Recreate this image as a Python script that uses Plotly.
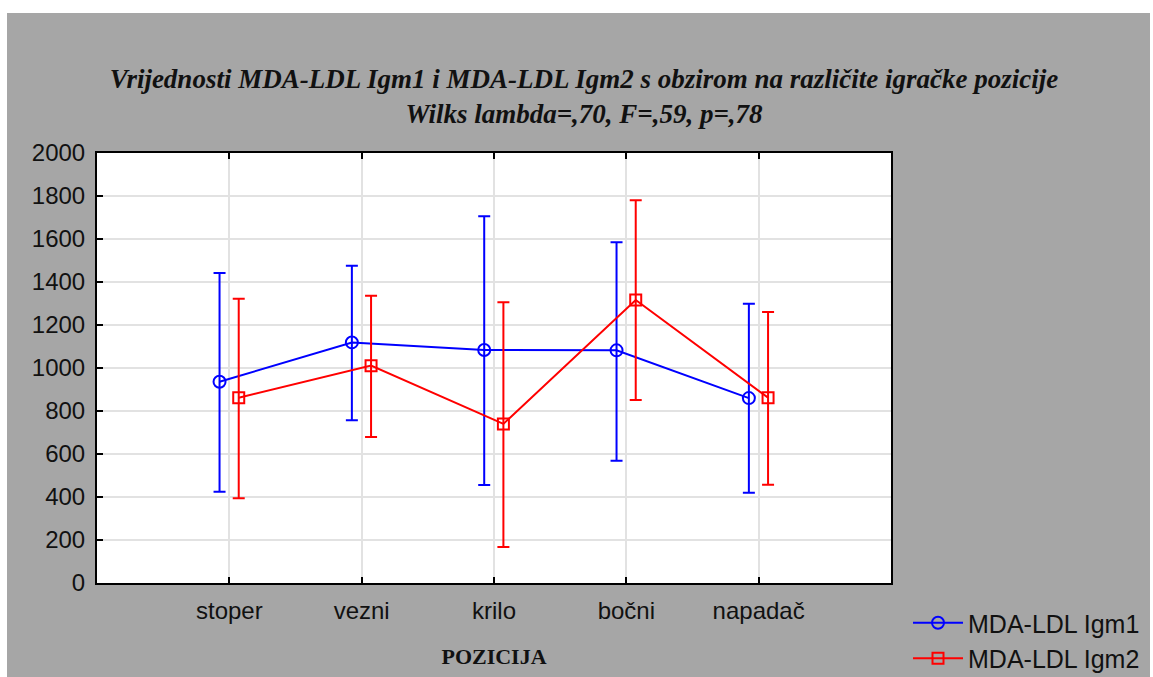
import plotly.graph_objects as go

positions = ["stoper", "vezni", "krilo", "bočni", "napadač"]

igm1_mean = [936, 1119, 1084, 1082, 860]
igm1_upper = [1442, 1476, 1706, 1585, 1299]
igm1_lower = [424, 757, 456, 569, 420]

igm2_mean = [862, 1011, 740, 1316, 862]
igm2_upper = [1322, 1336, 1306, 1780, 1260]
igm2_lower = [394, 679, 167, 851, 457]

y_ticks = list(range(0, 2001, 200))

W, H = 1153, 677
L, R, T, B = 97, 891, 153, 583
GRAY = "#a6a6a6"


def series(name, mean, upper, lower, shift, color, symbol, size):
    xs = [i + 1 + shift for i in range(len(mean))]
    return go.Scatter(
        x=xs,
        y=mean,
        name=name,
        mode="lines+markers",
        line=dict(color=color, width=2),
        marker=dict(symbol=symbol, size=size, color=color,
                    line=dict(color=color, width=2)),
        error_y=dict(
            type="data",
            symmetric=False,
            array=[u - m for u, m in zip(upper, mean)],
            arrayminus=[m - lo for m, lo in zip(mean, lower)],
            color=color,
            thickness=2,
            width=6,
        ),
    )


fig = go.Figure()
fig.add_trace(series("MDA-LDL Igm1", igm1_mean, igm1_upper, igm1_lower,
                     -0.074, "#0000ff", "circle-open", 12))
fig.add_trace(series("MDA-LDL Igm2", igm2_mean, igm2_upper, igm2_lower,
                     0.071, "#ff0000", "square-open", 11))

fig.update_layout(
    width=W,
    height=H,
    margin=dict(l=L, r=W - R, t=T, b=H - B, autoexpand=False),
    paper_bgcolor=GRAY,
    plot_bgcolor="white",
    font=dict(family="Liberation Sans, Arial", size=24, color="#111111"),
    title=dict(
        text="Vrijednosti MDA-LDL Igm1 i MDA-LDL Igm2 s obzirom na različite igračke pozicije"
             "<br>Wilks lambda=,70, F=,59, p=,78",
        x=584 / W,
        xanchor="center",
        xref="container",
        y=1 - 88 / H,
        yref="container",
        yanchor="middle",
        font=dict(family="Liberation Serif, Times New Roman", size=27,
                  weight="bold", style="italic", color="#111111"),
    ),
    legend=dict(
        x=(908 - L) / (R - L),
        y=(B - 600) / (B - T),
        xanchor="left",
        yanchor="top",
        bgcolor="rgba(0,0,0,0)",
        font=dict(size=25),
        itemwidth=50,
        tracegroupgap=0,
    ),
    showlegend=True,
)

fig.update_xaxes(
    range=[0, 6],
    tickmode="array",
    tickvals=[1, 2, 3, 4, 5],
    ticktext=positions,
    ticks="inside",
    ticklen=6,
    tickwidth=2,
    tickcolor="black",
    showline=True,
    linecolor="black",
    linewidth=2,
    mirror="ticks",
    showgrid=True,
    gridcolor="#e2e2e2",
    gridwidth=1.5,
    zeroline=False,
    ticklabelstandoff=5,
    title=dict(text="POZICIJA", standoff=26,
               font=dict(family="Liberation Serif, Times New Roman", size=22,
                         weight="bold", color="#111111")),
)

fig.update_yaxes(
    range=[0, 2000],
    tickmode="array",
    tickvals=y_ticks,
    ticks="inside",
    ticklen=6,
    tickwidth=2,
    tickcolor="black",
    showline=True,
    linecolor="black",
    linewidth=2,
    mirror=True,
    showgrid=True,
    gridcolor="#e2e2e2",
    gridwidth=1.5,
    zeroline=False,
    ticklabelstandoff=5,
)

# thin white strips at the top, left and right edges of the page
pw, ph = R - L, B - T
fig.add_shape(type="rect", xref="paper", yref="paper", layer="below",
              x0=-L / pw, x1=(W - L) / pw, y0=(B - 13) / ph, y1=B / ph,
              fillcolor="white", line_width=0)
fig.add_shape(type="rect", xref="paper", yref="paper", layer="below",
              x0=-L / pw, x1=(7 - L) / pw, y0=(B - H) / ph, y1=B / ph,
              fillcolor="white", line_width=0)
fig.add_shape(type="rect", xref="paper", yref="paper", layer="below",
              x0=(1150 - L) / pw, x1=(W - L) / pw, y0=(B - H) / ph, y1=B / ph,
              fillcolor="white", line_width=0)

fig.write_html("out.html", config={"displayModeBar": False},
               post_script="document.body.style.margin='0px';")
